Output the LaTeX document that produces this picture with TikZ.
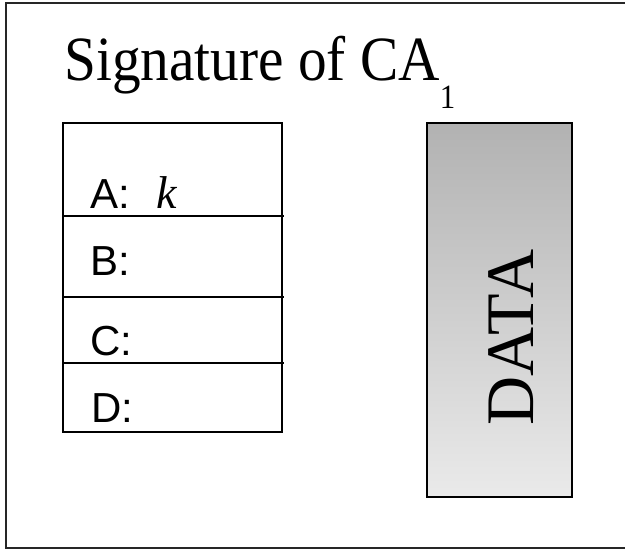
\documentclass[tikz,border=0pt]{standalone}
\usepackage{fontspec}
\setmainfont{Liberation Serif}
\setsansfont{Liberation Sans}
\begin{document}
\begin{tikzpicture}[x=1pt,y=-1pt,
  txt/.style={inner sep=0pt, anchor=base west},
  lbl/.style={txt, font=\sffamily\fontsize{42}{42}\selectfont},
  tbl/.style={line width=1.6pt, black},
  frame/.style={line width=1.6pt, black!85}]
\useasboundingbox (0,0) rectangle (625,550);
% outer frame (open on right, clipped)
\draw[frame] (625,3) -- (6,3) -- (6,548) -- (625,548);
% title
\node[txt, font=\fontsize{63}{63}\selectfont] (title) at (64,80)
  {\scalebox{0.91}[1]{Signature of CA\raisebox{-28pt}{\fontsize{34}{34}\selectfont 1}}};
% table
\draw[tbl] (63,123) rectangle (282,432);
\coordinate (r1l) at (63,216); \coordinate (r1r) at (284,216);
\coordinate (r2l) at (63,297); \coordinate (r2r) at (284,297);
\coordinate (r3l) at (63,363); \coordinate (r3r) at (284,363);
\draw[tbl] (r1l) -- (r1r);
\draw[tbl] (r2l) -- (r2r);
\draw[tbl] (r3l) -- (r3r);
\node[lbl] (la) at (90,208) {A:};
\node[txt, font=\itshape\fontsize{46}{46}\selectfont] (lk) at (156,208) {k};
\node[lbl] (lb) at (90,275) {B:};
\node[lbl] (lc) at (90,355) {C:};
\node[lbl] (ld) at (91,422) {D:};
% data box
\node[draw=black, line width=2.4pt, rectangle, inner sep=0pt,
  minimum width=145pt, minimum height=374pt,
  top color={rgb,255:red,178;green,178;blue,178},
  bottom color={rgb,255:red,234;green,234;blue,234}] (databox) at (499.5,310) {};
\node[txt, rotate=90, font=\fontsize{68}{68}\selectfont] (data) at (533,426) {DATA};
\end{tikzpicture}
\end{document}
